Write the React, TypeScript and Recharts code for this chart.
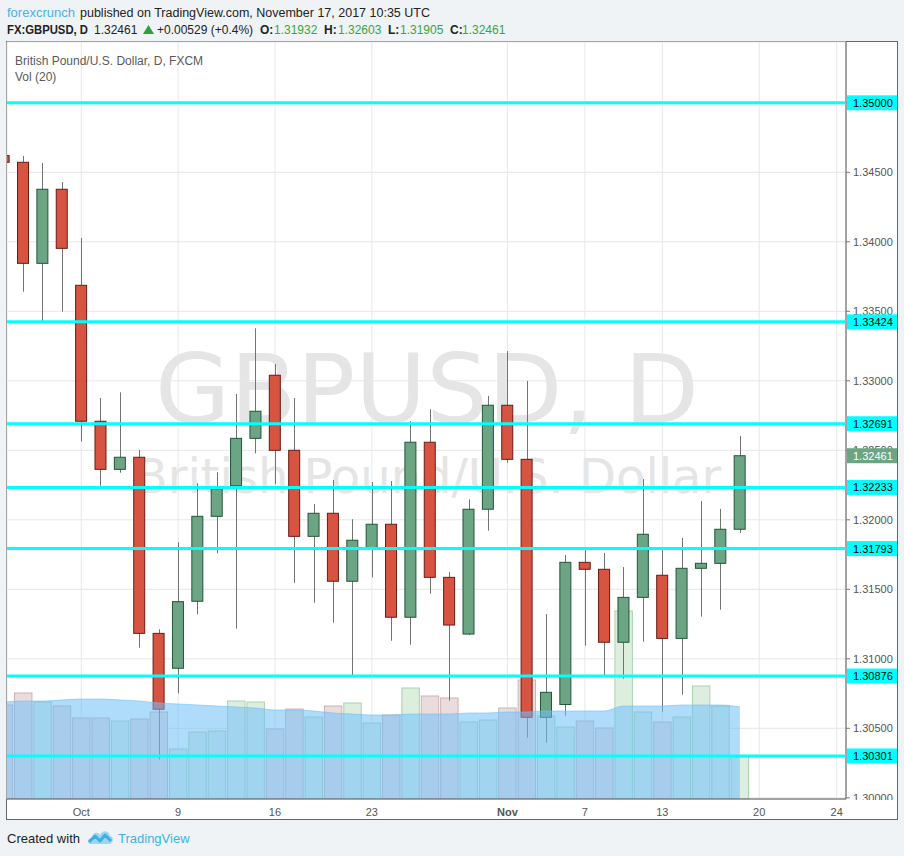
import React from 'react';
import { ComposedChart, Bar, Area, XAxis, YAxis, CartesianGrid, ReferenceLine } from 'recharts';

// GBP/USD daily candles, FXCM
const dates = [
  'Sep 26', 'Sep 27', 'Sep 28', 'Sep 29',
  'Oct 2', 'Oct 3', 'Oct 4', 'Oct 5', 'Oct 6',
  'Oct 9', 'Oct 10', 'Oct 11', 'Oct 12', 'Oct 13',
  'Oct 16', 'Oct 17', 'Oct 18', 'Oct 19', 'Oct 20',
  'Oct 23', 'Oct 24', 'Oct 25', 'Oct 26', 'Oct 27',
  'Oct 30', 'Oct 31', 'Nov 1', 'Nov 2', 'Nov 3',
  'Nov 6', 'Nov 7', 'Nov 8', 'Nov 9', 'Nov 10',
  'Nov 13', 'Nov 14', 'Nov 15', 'Nov 16', 'Nov 17',
];

const open = [
  1.3462, 1.34572, 1.33845, 1.34378,
  1.33687, 1.32709, 1.32363, 1.3245, 1.31183,
  1.30932, 1.31414, 1.32025, 1.32245, 1.32586,
  1.3304, 1.325, 1.31881, 1.32047, 1.31558,
  1.31795, 1.31968, 1.31299, 1.32558, 1.31586,
  1.31178, 1.32076, 1.32824, 1.32435, 1.30579,
  1.30671, 1.31694, 1.31644, 1.31119, 1.31442,
  1.31601, 1.31147, 1.31651, 1.31687, 1.31932,
];
const high = [
  1.347, 1.34617, 1.34567, 1.3443,
  1.34027, 1.32876, 1.32917, 1.32502, 1.31212,
  1.31838, 1.32263, 1.32342, 1.32905, 1.33378,
  1.33121, 1.32876, 1.32114, 1.32286, 1.32004,
  1.3227, 1.32279, 1.32711, 1.32795, 1.31624,
  1.32147, 1.32891, 1.33214, 1.32999, 1.31322,
  1.31747, 1.31783, 1.31761, 1.3166, 1.32294,
  1.31783, 1.31869, 1.32135, 1.32078, 1.32603,
];
const low = [
  1.344, 1.33641, 1.3343, 1.33497,
  1.32562, 1.32245, 1.32339, 1.3108, 1.30277,
  1.30752, 1.3132, 1.31759, 1.31217, 1.32478,
  1.32255, 1.31547, 1.31404, 1.3126, 1.30883,
  1.31586, 1.3113, 1.31101, 1.31468, 1.30699,
  1.3117, 1.31922, 1.32411, 1.30432, 1.30396,
  1.30591, 1.31094, 1.30881, 1.30857, 1.31123,
  1.30619, 1.30742, 1.31303, 1.31353, 1.31905,
];
const close = [
  1.34572, 1.33845, 1.34378, 1.33953,
  1.32709, 1.32363, 1.3245, 1.31183, 1.30637,
  1.31411, 1.32025, 1.32222, 1.32586, 1.32781,
  1.325, 1.31881, 1.32047, 1.31558, 1.31853,
  1.31968, 1.31299, 1.32558, 1.31586, 1.31243,
  1.32076, 1.32824, 1.32435, 1.30579, 1.30759,
  1.31694, 1.31644, 1.31119, 1.31442, 1.31896,
  1.31147, 1.31651, 1.31687, 1.31932, 1.32461,
];
// volume (thousands) and its 20-day average
const volume = [
  94, 106, 97, 93,
  81, 81, 78, 80, 87,
  50, 67, 68, 98, 97,
  70, 90, 82, 93, 96,
  76, 84, 111, 103, 101,
  77, 79, 91, 119, 83,
  72, 78, 71, 188, 87,
  77, 82, 113, 93, 42,
];
const volumeMA = [
  97, 98, 98, 99,
  100, 100, 99, 98, 96,
  95, 94, 93, 92, 91,
  89, 89, 88, 86, 85,
  84, 84, 85, 85, 85,
  86, 86, 87, 87, 88,
  88, 88, 88, 93, 93,
  93, 94, 94, 94, 92,
];

// horizontal support / resistance levels
const levels = [1.35, 1.33424, 1.32691, 1.32233, 1.31793, 1.30876, 1.30301];
const lastPrice = 1.32461;

const priceTicks = [1.3, 1.305, 1.31, 1.315, 1.32, 1.325, 1.33, 1.335, 1.34, 1.345, 1.35];
const tickIndex = [4, 9, 14, 19, 26, 30, 34, 39, 43];
const tickLabels = ['Oct', '9', '16', '23', 'Nov', '7', '13', '20', '24'];

const rows = dates.map((d, i) => ({
  i,
  date: d,
  o: open[i],
  h: high[i],
  l: low[i],
  c: close[i],
  range: [low[i], high[i]],
  vol: volume[i],
  ma: volumeMA[i],
}));

const AXIS_FONT = '"Liberation Sans", Arial, sans-serif';
const UP = '#6ba583';
const DOWN = '#d75442';
const PRICE_DOMAIN = [1.299914, 1.354374];

const Candle = (props: any) => {
  const { x, y, width, height, payload } = props;
  if (!payload) return null;
  const top = Math.min(y, y + height);
  const span = Math.abs(height);
  const perUnit = span / (payload.h - payload.l);
  const py = (p: number) => top + (payload.h - p) * perUnit;
  const up = payload.c >= payload.o;
  const cx = Math.round(x + width / 2) + 0.5;
  const bTop = py(Math.max(payload.o, payload.c));
  const bBot = py(Math.min(payload.o, payload.c));
  return (
    <g>
      <line x1={cx} x2={cx} y1={top} y2={top + span} stroke="#737373" strokeWidth={1} />
      <rect
        x={x + 1}
        y={bTop}
        width={width - 2}
        height={Math.max(bBot - bTop, 1)}
        fill={up ? UP : DOWN}
        stroke={up ? '#23553a' : '#6a1b12'}
        strokeWidth={1}
      />
    </g>
  );
};

const VolumeBar = (props: any) => {
  const { x, y, width, height, payload } = props;
  if (!payload) return null;
  const up = payload.c >= payload.o;
  return (
    <rect
      x={x}
      y={y}
      width={width}
      height={height}
      fill={up ? '#ddeedf' : '#eadcdc'}
      stroke={up ? '#a9d2b0' : '#cdb2b2'}
      strokeWidth={1}
    />
  );
};

const XTick = (props: any) => {
  const { x, y, payload } = props;
  const label = tickLabels[tickIndex.indexOf(payload.value)];
  return (
    <text x={x} y={y} dy={15} textAnchor="middle" fontSize={11} fill="#555" fontFamily={AXIS_FONT}
      fontWeight={label === 'Nov' ? 'bold' : 'normal'}>
      {label}
    </text>
  );
};

const YTick = (props: any) => {
  const { x, y, payload } = props;
  return (
    <text x={x} y={y} dy={4} textAnchor="start" fontSize={11} fill="#555" fontFamily={AXIS_FONT}>
      {Number(payload.value).toFixed(5)}
    </text>
  );
};

// coloured price tags on the price scale, drawn by a second thin axis that sits on top of the first
const TagTick = (props: any) => {
  const { x, y, payload } = props;
  const isLast = payload.value === lastPrice;
  return (
    <g>
      <rect x={x - 50} y={y - 7.5} width={50} height={15} fill={isLast ? UP : '#00ffff'} />
      <text x={x - 44} y={y} dy={4} fontSize={11} fill={isLast ? '#fff' : '#000'} fontFamily={AXIS_FONT}>
        {Number(payload.value).toFixed(5)}
      </text>
    </g>
  );
};

const Logo = () => (
  <g transform="translate(88,829)">
    <path d="M3 15 C-1 15 -1 9 4 9 C4 4 10 2 12 6 C14 1 21 1 22 7 C26 7 26 15 21 15 Z" fill="#9fd5f2" />
    <path d="M1 13 L7 7 L12 12 L17 6 L23 12" stroke="#3bb0e6" strokeWidth={3} fill="none" strokeLinejoin="round" />
  </g>
);

export default function App() {
  const green = '#37a63e';
  return (
    <div style={{ position: 'absolute', left: 0, top: 0, width: 904, height: 856, background: '#f0f3f6', overflow: 'hidden' }}>
      <div style={{ position: 'absolute', left: 6, top: 41, width: 890, height: 777, border: '1px solid #666', background: '#fff' }} />
      <svg width={904} height={856} style={{ position: 'absolute', left: 0, top: 0 }}>
        <text x={427} y={423} textAnchor="middle" fontSize={97} fill="#e5e5e5" fontFamily="DejaVu Sans">GBPUSD, D</text>
        <text x={428} y={493} textAnchor="middle" fontSize={48} fill="#e5e5e5" fontFamily="DejaVu Sans">British Pound/U.S. Dollar</text>
      </svg>
      <div style={{ position: 'absolute', left: 0, top: 0 }}>
        <ComposedChart width={904} height={856} data={rows} margin={{ top: 42, left: 7, right: 6, bottom: 36 }}>
          <CartesianGrid xAxisId="p" yAxisId="p" stroke="#e7e7e7" />
          <XAxis xAxisId="p" dataKey="i" type="number" domain={[0.164, 43.48]} allowDataOverflow
            ticks={tickIndex} interval={0} tick={<XTick />} tickLine={false} tickSize={0}
            axisLine={{ stroke: '#555' }} height={21} />
          <XAxis xAxisId="v" dataKey="i" type="number" domain={[0.164, 43.48]} allowDataOverflow hide />
          <YAxis yAxisId="p" orientation="right" type="number" domain={PRICE_DOMAIN} allowDataOverflow
            ticks={priceTicks} interval={0} tick={<YTick />} tickSize={4} tickMargin={3}
            tickLine={{ stroke: '#777' }} axisLine={{ stroke: '#555' }} width={51} />
          <YAxis yAxisId="tags" orientation="right" type="number" domain={PRICE_DOMAIN} allowDataOverflow
            ticks={[...levels, lastPrice]} interval={0} tick={<TagTick />} tickSize={0} tickMargin={0}
            tickLine={false} axisLine={false} width={1} zIndex={700} />
          <YAxis yAxisId="vol" type="number" domain={[0, 757]} allowDataOverflow hide />
          <Bar xAxisId="v" yAxisId="vol" dataKey="vol" barSize={19.37} shape={<VolumeBar />}
            isAnimationActive={false} zIndex={150} />
          <Bar xAxisId="p" yAxisId="p" dataKey="range" barSize={13} shape={<Candle />}
            isAnimationActive={false} zIndex={160} />
          <Area xAxisId="v" yAxisId="vol" dataKey="ma" type="monotone" fill="#6fbff9" fillOpacity={0.55}
            stroke="#6fbff9" strokeOpacity={0.6} dot={false} activeDot={false}
            isAnimationActive={false} zIndex={200} />
          {levels.map((v) => (
            <ReferenceLine key={v} xAxisId="p" yAxisId="p" y={v} stroke="#00ffff" strokeWidth={3} zIndex={600} />
          ))}
        </ComposedChart>
      </div>
      <div style={{ position: 'absolute', left: 847, top: 800, width: 49, height: 18, background: '#fff' }} />
      <svg width={904} height={856} style={{ position: 'absolute', left: 0, top: 0, pointerEvents: 'none' }}>
        <g fontFamily={AXIS_FONT}>
          <text x={7} y={17} fontSize={13} fill="#4ab2e2">forexcrunch</text>
          <text x={80} y={17} fontSize={12.5} fill="#222">published on TradingView.com, November 17, 2017 10:35 UTC</text>
          <text x={7} y={34} fontSize={12} fontWeight="bold" fill="#222" textLength={81} lengthAdjust="spacingAndGlyphs">FX:GBPUSD, D</text>
          <text x={94} y={34} fontSize={12} fill="#222">1.32461</text>
          <polygon points="143,34 154,34 148.5,25" fill="#2ea03b" />
          <text x={157} y={34} fontSize={12} fill="#222">+0.00529 (+0.4%)</text>
          <text x={260} y={34} fontSize={12} fontWeight="bold" fill="#222">O:</text>
          <text x={274} y={34} fontSize={12} fill={green}>1.31932</text>
          <text x={324} y={34} fontSize={12} fontWeight="bold" fill="#222">H:</text>
          <text x={338} y={34} fontSize={12} fill={green}>1.32603</text>
          <text x={388} y={34} fontSize={12} fontWeight="bold" fill="#222">L:</text>
          <text x={400} y={34} fontSize={12} fill={green}>1.31905</text>
          <text x={450} y={34} fontSize={12} fontWeight="bold" fill="#222">C:</text>
          <text x={462} y={34} fontSize={12} fill={green}>1.32461</text>
          <text x={15} y={65} fontSize={12} fill="#5a5a5a">British Pound/U.S. Dollar, D, FXCM</text>
          <text x={15} y={81} fontSize={12} fill="#5a5a5a">Vol (20)</text>
          <text x={7} y={843} fontSize={13} fill="#222">Created with</text>
          <text x={118} y={843} fontSize={13} fill="#3bb3e4">TradingView</text>
        </g>
        <Logo />
      </svg>
    </div>
  );
}
